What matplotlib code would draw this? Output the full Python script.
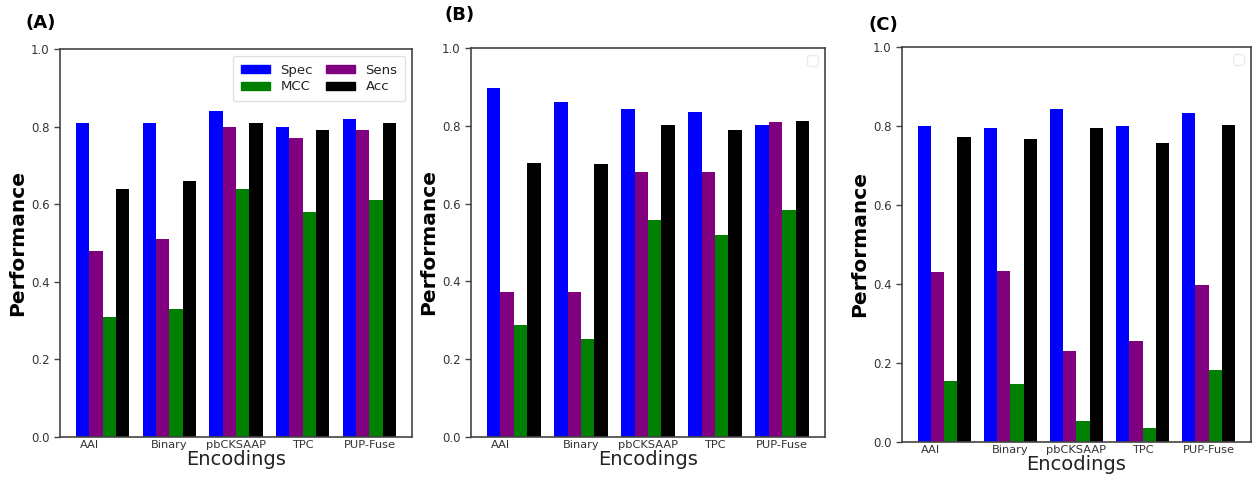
import numpy as np
import matplotlib
matplotlib.use("Agg")
import matplotlib.pyplot as plt
from matplotlib.patches import Patch

# Data
encodings = ['AAI', 'Binary', 'pbCKSAAP', 'TPC', 'PUP-Fuse']
metrics = ['Spec', 'Sens', 'MCC', 'Acc']
colors = ['#0000ff', '#800080', '#008000', '#000000']

spec_A = [0.81, 0.81, 0.84, 0.80, 0.82]
sens_A = [0.48, 0.51, 0.80, 0.77, 0.79]
mcc_A = [0.31, 0.33, 0.64, 0.58, 0.61]
acc_A = [0.64, 0.66, 0.81, 0.79, 0.81]

spec_B = [0.897, 0.862, 0.843, 0.835, 0.801]
sens_B = [0.374, 0.372, 0.682, 0.680, 0.809]
mcc_B = [0.287, 0.252, 0.557, 0.519, 0.583]
acc_B = [0.705, 0.701, 0.801, 0.788, 0.812]

spec_C = [0.800, 0.796, 0.843, 0.800, 0.833]
sens_C = [0.430, 0.433, 0.230, 0.255, 0.397]
mcc_C = [0.154, 0.148, 0.052, 0.036, 0.183]
acc_C = [0.772, 0.767, 0.795, 0.758, 0.803]

panels = [
    ('(A)', [spec_A, sens_A, mcc_A, acc_A]),
    ('(B)', [spec_B, sens_B, mcc_B, acc_B]),
    ('(C)', [spec_C, sens_C, mcc_C, acc_C]),
]

# axes rectangles in figure fraction
rects = [
    [0.0477, 0.0934, 0.2796, 0.8049],
    [0.3741, 0.0934, 0.2812, 0.8070],
    [0.7164, 0.0830, 0.2772, 0.8195],
]
title_pos = [(0.020, 0.952), (0.353, 0.968), (0.690, 0.948)]

fig = plt.figure(figsize=(12.59, 4.82), dpi=100)

w = 0.2
x = np.arange(len(encodings))

for i, (tag, series) in enumerate(panels):
    ax = fig.add_axes(rects[i])
    for k, vals in enumerate(series):
        ax.bar(x + k*w, vals, w, color=colors[k], label=metrics[k])

    ax.set_ylim(0, 1.0)
    ax.set_yticks([0.0, 0.2, 0.4, 0.6, 0.8, 1.0])
    ticks = x + 1.5*w
    ticks[0] -= w   # the first label sits a bar to the left
    ax.set_xticks(ticks)
    ax.set_xticklabels(encodings, fontsize=8.2, color='#333333')
    ax.tick_params(axis='x', length=0, pad=2)
    ax.tick_params(axis='y', labelsize=8.5, labelcolor='#333333',
                   color='#444444', length=4, width=1)
    for sp in ax.spines.values():
        sp.set_color('#444444')
        sp.set_linewidth(1.2)

    ax.set_ylabel('Performance', fontsize=14.5, fontweight='bold', labelpad=3)
    ax.set_xlabel('Encodings', fontsize=14, labelpad=0, color='#222222')

    if i == 0:
        h = [Patch(color=colors[0]), Patch(color=colors[2]),
             Patch(color=colors[1]), Patch(color=colors[3])]
        ax.legend(h, ['Spec', 'MCC', 'Sens', 'Acc'], ncol=2, loc='upper right',
                  fontsize=9.5, handlelength=2.2, handleheight=0.6,
                  labelspacing=0.3, columnspacing=1.0, borderpad=0.6,
                  labelcolor='#222222', framealpha=0.6)
    else:
        ax.legend(handles=[], loc='upper right', framealpha=0.4)

    fig.text(title_pos[i][0], title_pos[i][1], tag, fontsize=13,
             fontweight='bold', ha='left', va='center')

fig.savefig('out.png', dpi=100)
